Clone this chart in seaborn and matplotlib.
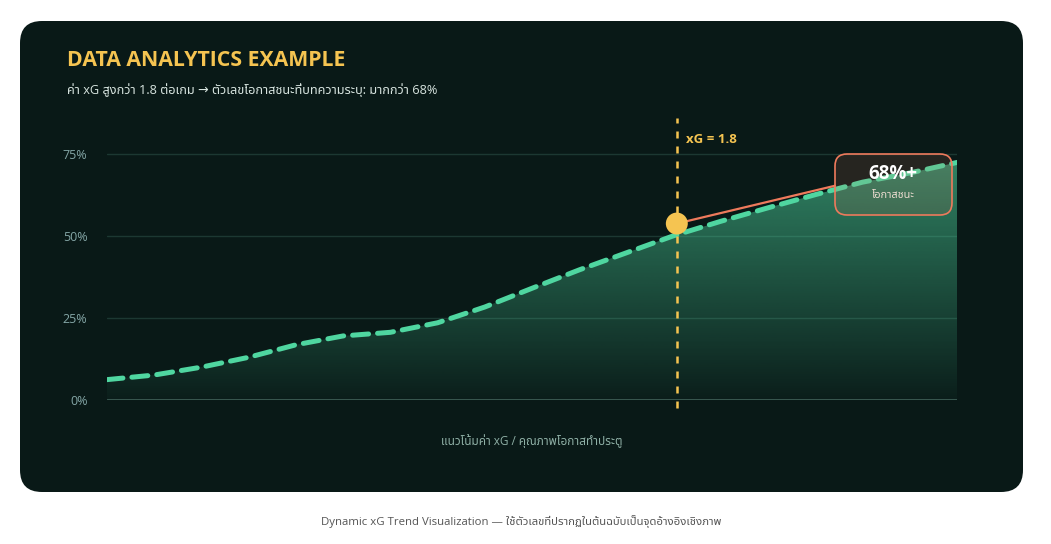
import numpy as np
import pandas as pd
import matplotlib
matplotlib.use("Agg")
import matplotlib.pyplot as plt
import seaborn as sns
from matplotlib import font_manager as fm
from matplotlib.patches import FancyBboxPatch

# Data
xg_values = [0.00, 0.15, 0.30, 0.45, 0.60, 0.75, 0.90, 1.05, 1.20, 1.35,
             1.50, 1.65, 1.80, 1.95, 2.10, 2.25, 2.40, 2.55, 2.70]
win_chance = [0.062, 0.076, 0.100, 0.130, 0.168, 0.195, 0.206, 0.235, 0.283, 0.340,
              0.396, 0.448, 0.500, 0.544, 0.585, 0.625, 0.663, 0.691, 0.723]
y_ticks = [0.0, 0.25, 0.50, 0.75]
y_tick_labels = ["0%", "25%", "50%", "75%"]
marker_xg = 1.81
marker_value = 0.537
marker_label = "xG = 1.8"
callout_value = "68%+"
callout_text = "โอกาสชนะ"

title = "DATA ANALYTICS EXAMPLE"
subtitle = "ค่า xG สูงกว่า 1.8 ต่อเกม → ตัวเลขโอกาสชนะที่บทความระบุ: มากกว่า 68%"
x_label = "แนวโน้มค่า xG / คุณภาพโอกาสทำประตู"
footer = "Dynamic xG Trend Visualization — ใช้ตัวเลขที่ปรากฏในต้นฉบับเป็นจุดอ้างอิงเชิงภาพ"

df = pd.DataFrame({"xg": xg_values, "win": win_chance})

sns.set_theme(style="white")

# fonts: latin first, then a Thai family for the Thai glyphs
available = {f.name for f in fm.fontManager.ttflist}
thai = next((f for f in ["Noto Sans Thai", "Noto Sans Thai UI", "Sarabun", "IBM Plex Sans Thai",
                         "Anuphan", "Prompt", "Kanit", "Bai Jamjuree"] if f in available), "DejaVu Sans")
plt.rcParams["font.family"] = ["Open Sans", thai, "DejaVu Sans"]

CARD = "#091917"
GREEN = "#4fd6a0"
YELLOW = "#f5c451"
CORAL = "#ee7a5c"

W, H = 1051, 544
fig = plt.figure(figsize=(W / 100, H / 100), dpi=100, facecolor="white")

# dark rounded card (pixel coords)
card = FancyBboxPatch((20 + 22, H - 492 + 22), 1003 - 44, 471 - 44,
                      boxstyle="round,pad=22", transform=None,
                      facecolor=CARD, edgecolor="none", zorder=-5)
fig.patches.append(card)

ax = fig.add_axes([107 / W, (H - 400) / H, 850 / W, 276 / H])
ax.set_facecolor("none")
ax.set_xlim(0, 2.7)
ax.set_ylim(0, 0.84)

# grid
for v in y_ticks[1:]:
    ax.axhline(v, color="#1c3832", lw=1.0, zorder=1)
ax.axhline(0, color="#3d5d55", lw=2.0, zorder=4)

# gradient area under the curve
poly = ax.fill_between(df["xg"], df["win"], 0, color="none", lw=0)
grad = np.zeros((200, 2, 4))
g = matplotlib.colors.to_rgb(GREEN)
grad[..., 0], grad[..., 1], grad[..., 2] = g
alpha = np.linspace(0.64, 0.03, 200)
grad[..., 3] = alpha[:, None]
img = ax.imshow(grad, extent=[0, 2.7, 0, 0.84], aspect="auto", origin="upper", zorder=2)
img.set_clip_path(poly.get_paths()[0], transform=ax.transData)

# trend line
sns.lineplot(data=df, x="xg", y="win", ax=ax, color=GREEN, lw=3.6,
             linestyle=(0, (3.2, 1.8)), dash_capstyle="round", zorder=5)

# marker line at xG 1.8
ax.axvline(marker_xg, ymin=-0.03, ymax=1.02, color=YELLOW, lw=1.8,
           linestyle=(0, (2.8, 3.2)), zorder=6, clip_on=False)
ax.text(marker_xg + 0.03, 0.793, marker_label, color=YELLOW, fontsize=9.5,
        fontweight="bold", va="center", ha="left")

# callout
ax.plot([marker_xg, 2.312], [marker_value, 0.652], color=CORAL, lw=1.6, zorder=7)
ax.scatter([marker_xg], [marker_value], s=250, color=YELLOW, zorder=8, edgecolor="none")
box = FancyBboxPatch((835 + 12, H - 215 + 12), 117 - 24, 61 - 24,
                     boxstyle="round,pad=12", transform=None,
                     facecolor=(0.85, 0.45, 0.35, 0.14), edgecolor=CORAL, lw=1.2, zorder=9)
fig.patches.append(box)
fig.text(893 / W, (H - 174) / H, callout_value, color="white", fontsize=13.5,
         fontweight="bold", ha="center", va="center", zorder=10)
fig.text(893 / W, (H - 196) / H, callout_text, color="#ecdcd0", fontsize=7.8,
         ha="center", va="center", zorder=10)

# axes styling
ax.set_yticks(y_ticks)
ax.set_yticklabels(y_tick_labels)
ax.set_xticks([])
ax.tick_params(axis="y", length=0, pad=14, labelsize=9, labelcolor="#84a6a6")
ax.set_xlabel("")
ax.set_ylabel("")
for s in ax.spines.values():
    s.set_visible(False)

# texts
fig.text(67 / W, (H - 60) / H, title, color=YELLOW, fontsize=15.3, fontweight="bold",
         ha="left", va="center")
fig.text(67 / W, (H - 90) / H, subtitle, color="#d7e4df", fontsize=9.2,
         ha="left", va="center")
fig.text(532 / W, (H - 441) / H, x_label, color="#8fb0a6", fontsize=8.5,
         ha="center", va="center")
fig.text(521 / W, (H - 522) / H, footer, color="#555555", fontsize=8.2,
         ha="center", va="center")

fig.savefig("out.png", dpi=100, facecolor="white")
